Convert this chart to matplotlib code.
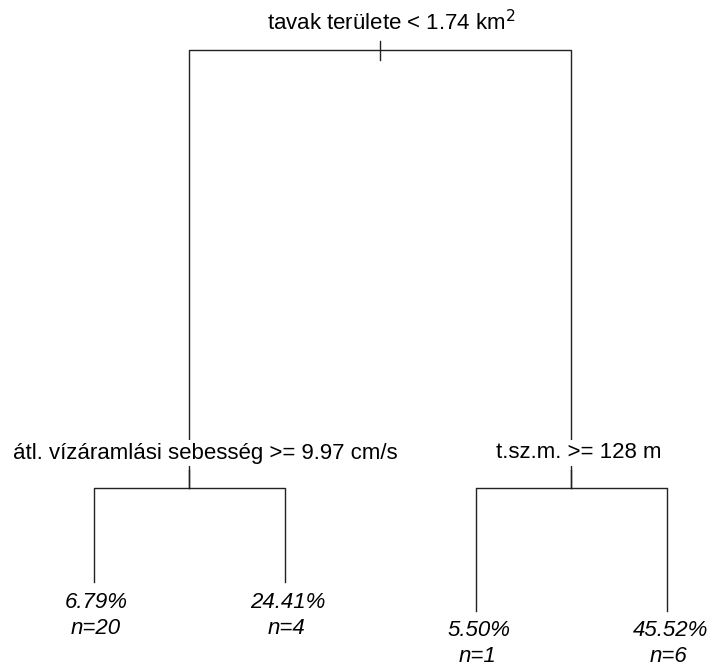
import matplotlib
matplotlib.use("Agg")
import matplotlib.pyplot as plt

# regression tree: split rules, relative deviance reduction of each split, leaves
splits = ["tavak területe < 1.74 km$^2$",
          "átl. vízáramlási sebesség >= 9.97 cm/s",
          "t.sz.m. >= 128 m"]
split_gain = [438, 94, 123]
leaf_values = ["6.79%", "24.41%", "5.50%", "45.52%"]
leaf_n = [20, 4, 1, 6]

plt.rcParams['font.family'] = ['Liberation Sans', 'DejaVu Sans']

fig = plt.figure(figsize=(7.08, 6.68), dpi=100)
ax = fig.add_axes([0, 0, 1, 1])
ax.set_xlim(0.508, 4.215)
ax.set_ylim(618, -50)
ax.axis('off')
renderer = fig.canvas.get_renderer()

# labels sit slightly right of their node, by a fixed share of their width
def label(x, y, s, **kw):
    t = ax.text(x, y, s, ha='center', va='center', fontsize=16, **kw)
    w = t.get_window_extent(renderer).width
    px_per_unit = ax.transData.transform((1, 0))[0] - ax.transData.transform((0, 0))[0]
    t.set_x(x + 0.042 * w / px_per_unit)
    return t

# layout: leaves at 1..4, internal nodes centred over their children
leaf_x = [1, 2, 3, 4]
left_x = (leaf_x[0] + leaf_x[1]) / 2
right_x = (leaf_x[2] + leaf_x[3]) / 2
root_x = (left_x + right_x) / 2

root_y = 0
child_y = root_y + split_gain[0]
leaf_y = [child_y + split_gain[1]] * 2 + [child_y + split_gain[2]] * 2

lc = dict(color='#222222', lw=1.0)
bg = dict(facecolor='white', edgecolor='none', pad=2)

# root split
ax.plot([left_x, left_x, right_x, right_x], [child_y, root_y, root_y, child_y], **lc)
ax.plot([root_x, root_x], [root_y - 9, root_y + 10], **lc)
label(root_x, root_y - 27, splits[0])

# second-level splits
for cx, (a, b), s in [(left_x, (0, 1), splits[1]), (right_x, (2, 3), splits[2])]:
    ax.plot([leaf_x[a], leaf_x[a], leaf_x[b], leaf_x[b]],
            [leaf_y[a], child_y, child_y, leaf_y[b]], **lc)
    ax.plot([cx, cx], [child_y, child_y - 18], **lc)
    label(cx, child_y - 35, s, bbox=bg, zorder=3)

# leaf labels
for x, y, v, n in zip(leaf_x, leaf_y, leaf_values, leaf_n):
    label(x, y + 20, v, style='italic')
    label(x, y + 46, f"n={n}", style='italic')

fig.savefig("out.png", dpi=100)
